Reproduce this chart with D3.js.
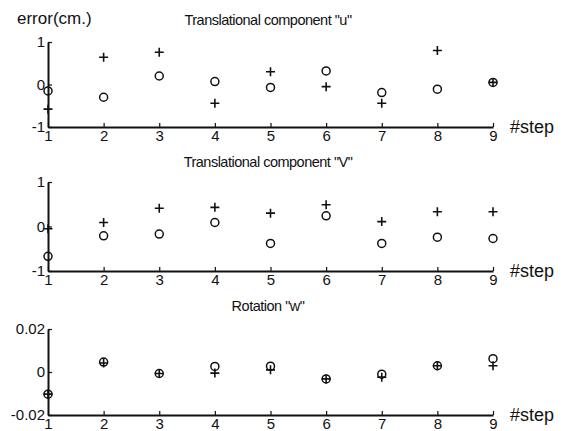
<!DOCTYPE html>
<html>
<head>
<meta charset="utf-8">
<script src="https://cdn.jsdelivr.net/npm/d3@7"></script>
<style>
  body { margin: 0; background: #fff; }
  svg { display: block; font-family: "Liberation Sans", Arial, sans-serif; }
</style>
</head>
<body>
<svg id="chart" width="573" height="431"></svg>
<script>
/// data ///
const steps = [1, 2, 3, 4, 5, 6, 7, 8, 9];

// translational component "u" (cm)
const uPlus   = [-0.58, 0.64, 0.76, -0.44, 0.30, -0.05, -0.44, 0.80, 0.05];
const uCircle = [-0.15, -0.30, 0.20, 0.07, -0.07, 0.32, -0.19, -0.11, 0.05];

// translational component "v" (cm)
const vPlus   = [-0.05, 0.09, 0.41, 0.43, 0.30, 0.49, 0.11, 0.33, 0.33];
const vCircle = [-0.67, -0.21, -0.17, 0.09, -0.38, 0.24, -0.38, -0.24, -0.27];

// rotation "w"
const wPlus   = [-0.0103, 0.0042, -0.0007, -0.0005, 0.0010, -0.0032, -0.0024, 0.0029, 0.0029];
const wCircle = [-0.0103, 0.0046, -0.0007, 0.0026, 0.0027, -0.0032, -0.0010, 0.0029, 0.0062];

const panels = [
  { title: 'Translational component "u"', plus: uPlus, circle: uCircle,
    domain: [-1, 1], ticks: [-1, 0, 1], tickLabels: ["-1", "0", "1"],
    top: 42, bottom: 127, titleY: 25 },
  { title: 'Translational component "V"', plus: vPlus, circle: vCircle,
    domain: [-1, 1], ticks: [-1, 0, 1], tickLabels: ["-1", "0", "1"],
    top: 182, bottom: 271, titleY: 167 },
  { title: 'Rotation "w"', plus: wPlus, circle: wCircle,
    domain: [-0.02, 0.02], ticks: [-0.02, 0, 0.02], tickLabels: ["-0.02", "0", "0.02"],
    top: 329, bottom: 415, titleY: 311 }
];

/// constants ///
const left = 48, right = 493;
const ink = "#111";

const svg = d3.select("#chart");

const xScale = d3.scaleLinear()
  .domain([1, 9])
  .range([left, right]);

// y label
svg.append("text")
  .attr("x", 17)
  .attr("y", 24)
  .attr("font-size", 17)
  .attr("fill", ink)
  .text("error(cm.)");

panels.forEach(p => {
  const yScale = d3.scaleLinear()
    .domain(p.domain)
    .range([p.bottom, p.top]);

  const g = svg.append("g");

  // title
  g.append("text")
    .attr("x", 268)
    .attr("y", p.titleY)
    .attr("text-anchor", "middle")
    .attr("font-size", 14.5)
    .attr("letter-spacing", -0.5)
    .attr("fill", ink)
    .text(p.title);

  // x axis
  g.append("g")
    .attr("transform", `translate(0, ${p.bottom})`)
    .call(d3.axisBottom(xScale).tickValues(steps).tickFormat(d3.format("d"))
      .tickSizeInner(-4).tickSizeOuter(0).tickPadding(3))
    .call(a => a.select(".domain").attr("stroke", ink).attr("stroke-width", 2))
    .call(a => a.selectAll(".tick line").attr("stroke", ink).attr("stroke-width", 1.2))
    .call(a => a.selectAll("text")
      .attr("font-size", 15)
      .attr("fill", ink)
      .attr("font-family", "Liberation Sans, Arial, sans-serif"));

  // y axis
  g.append("g")
    .attr("transform", `translate(${left}, 0)`)
    .call(d3.axisLeft(yScale).tickValues(p.ticks).tickFormat((d, i) => p.tickLabels[i])
      .tickSizeInner(-4).tickSizeOuter(0).tickPadding(3))
    .call(a => a.select(".domain").attr("stroke", ink).attr("stroke-width", 2))
    .call(a => a.selectAll(".tick line").attr("stroke", ink).attr("stroke-width", 1.2))
    .call(a => a.selectAll("text")
      .attr("font-size", 15)
      .attr("fill", ink)
      .attr("font-family", "Liberation Sans, Arial, sans-serif"));

  // "#step" label
  g.append("text")
    .attr("x", 510)
    .attr("y", p.bottom + 6)
    .attr("font-size", 18)
    .attr("fill", ink)
    .text("#step");

  // circles
  g.selectAll(".circle-mark")
    .data(steps.map((s, i) => ({ s, v: p.circle[i] })))
    .join("circle")
    .attr("class", "circle-mark")
    .attr("cx", d => xScale(d.s))
    .attr("cy", d => yScale(d.v))
    .attr("r", 4)
    .attr("fill", "none")
    .attr("stroke", ink)
    .attr("stroke-width", 1.5);

  // plus markers
  const plusSize = 4.5;
  g.selectAll(".plus-mark")
    .data(steps.map((s, i) => ({ s, v: p.plus[i] })))
    .join("path")
    .attr("class", "plus-mark")
    .attr("d", d => {
      const x = xScale(d.s), y = yScale(d.v);
      return `M${x - plusSize},${y}H${x + plusSize}M${x},${y - plusSize}V${y + plusSize}`;
    })
    .attr("stroke", ink)
    .attr("stroke-width", 1.6)
    .attr("fill", "none");
});
</script>
</body>
</html>
